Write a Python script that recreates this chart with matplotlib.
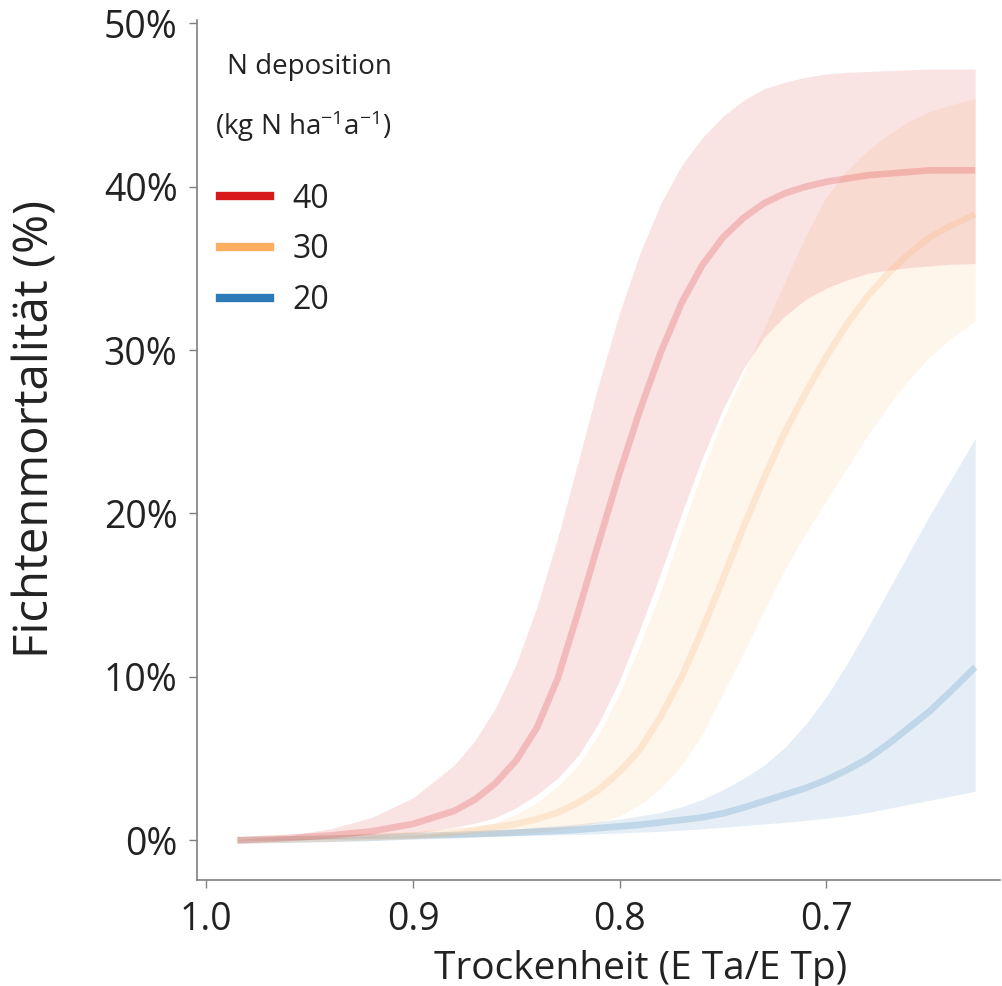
import matplotlib
matplotlib.use("Agg")
import matplotlib.pyplot as plt
from matplotlib.ticker import PercentFormatter

plt.rcParams['font.family'] = ['Open Sans', 'DejaVu Sans']
plt.rcParams['mathtext.fontset'] = 'custom'
plt.rcParams['mathtext.rm'] = 'Open Sans'
plt.rcParams['mathtext.default'] = 'regular'

# Trockenheit (ETa/ETp) und Mortalität in % je N-Deposition
eta = [0.985, 0.96, 0.94, 0.92, 0.90, 0.88, 0.87, 0.86, 0.85, 0.84, 0.83, 0.82, 0.81,
       0.80, 0.79, 0.78, 0.77, 0.76, 0.75, 0.74, 0.73, 0.72, 0.71, 0.70, 0.69, 0.68,
       0.67, 0.66, 0.65, 0.64, 0.628]

n40_fit = [0, 0.15, 0.3, 0.55, 1.0, 1.8, 2.5, 3.5, 4.9, 6.9, 9.9, 14.0, 18.3,
           22.5, 26.4, 29.9, 32.9, 35.2, 36.9, 38.1, 39.0, 39.6, 40.0, 40.3, 40.5, 40.7,
           40.8, 40.9, 41.0, 41.0, 41.0]
n40_hi = [0.05, 0.3, 0.7, 1.4, 2.6, 4.6, 6.1, 8.1, 10.8, 14.3, 18.5, 23.2, 28.0,
          32.3, 36.0, 39.0, 41.3, 43.0, 44.3, 45.3, 46.0, 46.4, 46.7, 46.9, 47.0, 47.05,
          47.1, 47.15, 47.2, 47.2, 47.2]
n40_lo = [0, 0.05, 0.1, 0.2, 0.4, 0.8, 1.05, 1.4, 2.0, 2.8, 3.8, 5.2, 7.2,
          9.8, 13.0, 16.4, 20.0, 23.4, 26.4, 28.9, 30.8, 32.1, 33.1, 33.8, 34.3, 34.7,
          34.9, 35.05, 35.15, 35.25, 35.3]

n30_fit = [0, 0.05, 0.1, 0.2, 0.3, 0.5, 0.65, 0.8, 1.0, 1.3, 1.7, 2.3, 3.1,
           4.2, 5.6, 7.6, 10.0, 12.9, 16.0, 19.2, 22.2, 25.0, 27.4, 29.6, 31.6, 33.3,
           34.7, 35.9, 36.9, 37.6, 38.3]
n30_hi = [0, 0.05, 0.1, 0.2, 0.35, 0.6, 0.8, 1.1, 1.6, 2.3, 3.3, 4.6, 6.5,
          9.0, 12.0, 15.3, 19.0, 22.6, 25.8, 28.6, 31.4, 34.2, 37.0, 39.4, 41.0, 42.2,
          43.2, 44.0, 44.6, 45.0, 45.4]
n30_lo = [0, 0.02, 0.05, 0.08, 0.12, 0.2, 0.25, 0.3, 0.4, 0.5, 0.65, 0.85, 1.1,
          1.5, 2.2, 3.2, 4.6, 6.5, 9.0, 11.5, 14.1, 16.6, 18.8, 20.8, 22.8, 24.8,
          26.6, 28.2, 29.6, 30.7, 31.8]

n20_fit = [0, 0.05, 0.1, 0.15, 0.25, 0.32, 0.37, 0.42, 0.47, 0.53, 0.58, 0.65, 0.75,
           0.85, 0.95, 1.1, 1.25, 1.4, 1.65, 2.0, 2.4, 2.8, 3.2, 3.7, 4.3, 5.0,
           5.9, 6.9, 7.9, 9.1, 10.6]
n20_hi = [0, 0.08, 0.15, 0.25, 0.35, 0.45, 0.52, 0.6, 0.7, 0.8, 0.9, 1.0, 1.15,
          1.3, 1.5, 1.7, 2.05, 2.5, 3.1, 3.8, 4.6, 5.7, 7.1, 8.8, 10.8, 13.0,
          15.3, 17.6, 19.9, 22.0, 24.6]
n20_lo = [0, 0.03, 0.07, 0.1, 0.15, 0.2, 0.22, 0.25, 0.28, 0.3, 0.33, 0.35, 0.4,
          0.45, 0.5, 0.55, 0.62, 0.7, 0.8, 0.9, 1.0, 1.1, 1.22, 1.35, 1.5, 1.7,
          1.95, 2.2, 2.45, 2.7, 3.0]

labels = ['40', '30', '20']
colors = ['#d7191c', '#fdae61', '#2c7bb6']
fits = [n40_fit, n30_fit, n20_fit]
his = [n40_hi, n30_hi, n20_hi]
los = [n40_lo, n30_lo, n20_lo]

fig = plt.figure(figsize=(10.03, 9.86), dpi=100)
ax = fig.add_axes([0.1964, 0.1075, 0.8006, 0.8722])

for lo, hi, c in zip(los[::-1], his[::-1], colors[::-1]):
    ax.fill_between(eta, lo, hi, color=c, alpha=0.12, lw=0)
for fit, c in zip(fits[::-1], colors[::-1]):
    ax.plot(eta, fit, color=c, alpha=0.2, lw=4.8, solid_capstyle='butt',
            solid_joinstyle='round')

ax.set_xlim(1.0045, 0.616)
ax.set_ylim(-2.43, 50.2)
ax.set_xticks([1.0, 0.9, 0.8, 0.7])
ax.set_xticklabels(['1.0', '0.9', '0.8', '0.7'])
ax.set_yticks([0, 10, 20, 30, 40, 50])
ax.yaxis.set_major_formatter(PercentFormatter(100, decimals=0))

for s in ['top', 'right']:
    ax.spines[s].set_visible(False)
for s in ['left', 'bottom']:
    ax.spines[s].set_color('#808080')
    ax.spines[s].set_linewidth(1.2)
ax.tick_params(axis='both', colors='#808080', labelcolor='#222222', length=6,
               width=1.0, labelsize=27)
ax.tick_params(axis='y', pad=8)
ax.tick_params(axis='x', pad=9)

ax.set_xlabel('Trockenheit (E Ta/E Tp)', fontsize=28, color='#222222')
ax.xaxis.set_label_coords(0.553, -0.081)
ax.set_ylabel('Fichtenmortalität (%)', fontsize=34, color='#222222')
ax.yaxis.set_label_coords(-0.171, 0.525)

# Legende
ax.text(0.037, 0.945, 'N deposition', transform=ax.transAxes, fontsize=20,
        va='center', color='#222222')
ax.text(0.022, 0.876, '(kg N ha$^{-1}$a$^{-1}$)', transform=ax.transAxes,
        fontsize=20, va='center', color='#222222')
handles = [plt.Line2D([], [], color=c, lw=6) for c in colors]
ax.legend(handles, labels, loc='upper left', bbox_to_anchor=(0.0286, 0.811),
          frameon=False, fontsize=23, handlelength=1.56, handletextpad=0.7,
          labelspacing=0.55, borderpad=0, borderaxespad=0, labelcolor='#222222')

fig.savefig('out.png', dpi=100)
